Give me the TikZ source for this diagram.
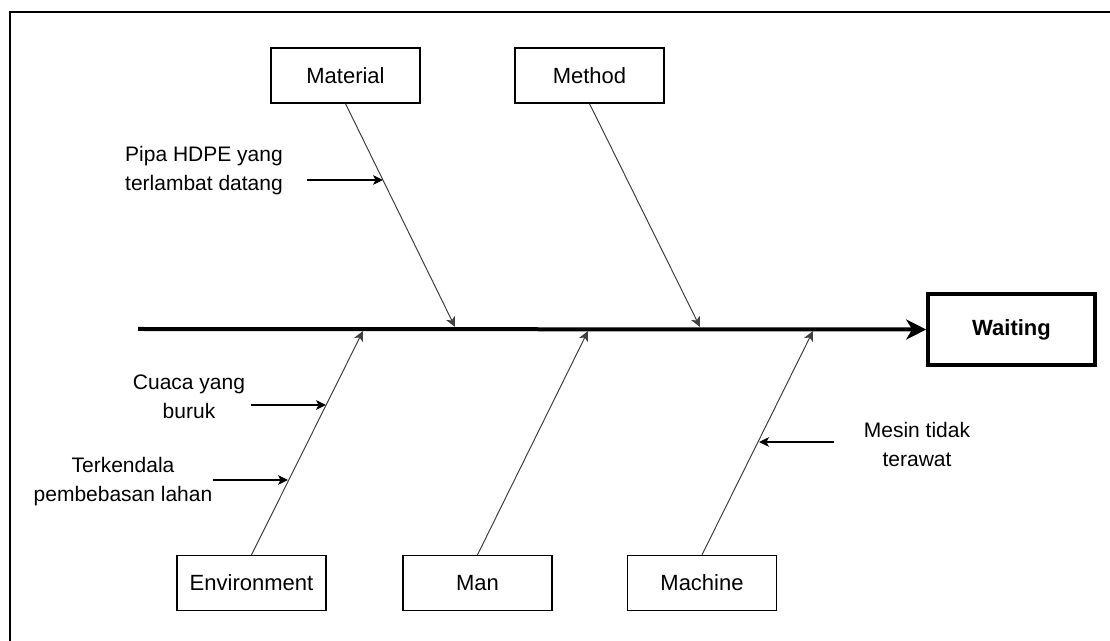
\documentclass[tikz,border=0pt]{standalone}
\usepackage{fontspec}
\setmainfont{Liberation Sans}
\usetikzlibrary{arrows.meta, positioning}

\begin{document}
\begin{tikzpicture}[
  x=0.5pt, y=-0.5pt,
  catbox/.style={
    rectangle,
    draw,
    line width=0.65pt,
    align=center,
    minimum width=74.5pt,
    minimum height=27.5pt,
    inner sep=0pt,
    font=\fontsize{11}{13.2}\selectfont
  },
  effect/.style={
    rectangle,
    draw,
    line width=1.8pt,
    align=center,
    minimum width=83.5pt,
    minimum height=35.5pt,
    inner sep=0pt,
    font=\fontsize{11}{13.2}\selectfont\bfseries
  },
  cause/.style={align=center, inner sep=0pt, font=\fontsize{10.5}{14.5}\selectfont},
  bone/.style={-{Stealth[length=5pt, width=4.8pt, inset=1.3pt]}, line width=0.5pt, draw=black!75},
  arrow/.style={-{Stealth[length=5pt, width=4.8pt, inset=1.3pt]}, line width=0.7pt},
  spine/.style={-{Stealth[length=10pt, width=10pt, inset=3pt]}, line width=2pt}
]

\useasboundingbox (0,0) rectangle (1110,641);
\draw[line width=1.1pt] (1112,12) -- (10,12) -- (10,643);

% Head and category boxes
\node[effect] (waiting) at (1011.5,329.5) {Waiting};
\node[catbox] (material) at (345.5,75.5) {Material};
\node[catbox] (method) at (589.5,75.5) {Method};
\node[catbox] (environment) at (251.5,583) {Environment};
\node[catbox] (man) at (477.5,583) {Man};
\node[catbox] (machine) at (702,583) {Machine};

% Spine
\coordinate (tail) at (138,329);
\draw[spine] (tail) -- (waiting.west);

% Bones
\coordinate (matTip) at (455,327);
\coordinate (metTip) at (700,327);
\coordinate (envTip) at (363,331);
\coordinate (manTip) at (588,331);
\coordinate (macTip) at (813,331);
\draw[bone] (material.south) -- (matTip);
\draw[bone] (method.south) -- (metTip);
\draw[bone] (environment.north) -- (envTip);
\draw[bone] (man.north) -- (manTip);
\draw[bone] (machine.north) -- (macTip);

% Causes
\node[cause] (pipa) at (204,171) {Pipa HDPE yang\\terlambat datang};
\node[cause] (cuaca) at (189,397) {Cuaca yang\\buruk};
\node[cause] (lahan) at (123,482) {Terkendala\\pembebasan lahan};
\node[cause] (mesin) at (917,444) {Mesin tidak\\terawat};

\coordinate (pipaFrom) at (307,180);
\coordinate (pipaTo) at (383,180);
\coordinate (cuacaFrom) at (251,405);
\coordinate (cuacaTo) at (326,405);
\coordinate (lahanFrom) at (213,480);
\coordinate (lahanTo) at (288,480);
\coordinate (mesinFrom) at (834,442);
\coordinate (mesinTo) at (759,442);
\draw[arrow] (pipaFrom) -- (pipaTo);
\draw[arrow] (cuacaFrom) -- (cuacaTo);
\draw[arrow] (lahanFrom) -- (lahanTo);
\draw[arrow] (mesinFrom) -- (mesinTo);

\end{tikzpicture}
\end{document}
